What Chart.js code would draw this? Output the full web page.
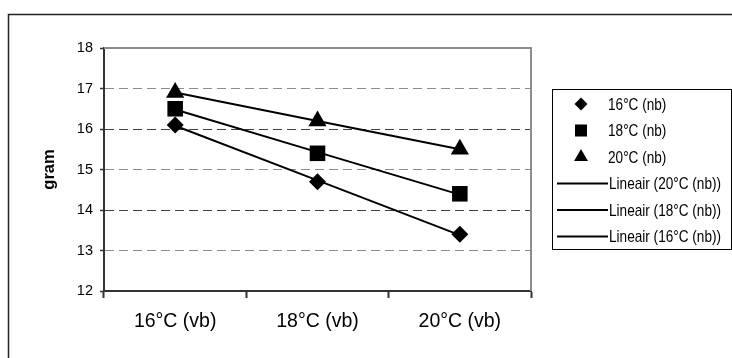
<!DOCTYPE html>
<html>
<head>
<meta charset="utf-8">
<script src="https://cdn.jsdelivr.net/npm/chart.js@4.4.0/dist/chart.umd.min.js"></script>
<style>
  html, body { margin: 0; padding: 0; background: #fff; }
  #wrap { width: 732px; height: 358px; }
</style>
</head>
<body>
<div id="wrap"><canvas id="myChart"></canvas></div>
<script>
// categories on the x axis
const categories = ['16°C (vb)', '18°C (vb)', '20°C (vb)'];
// measured points (nb)
const nb16 = [16.1, 14.7, 13.4];
const nb18 = [16.5, 15.4, 14.4];
const nb20 = [16.9, 16.2, 15.5];
// linear trend lines
const trend16 = [16.08, 14.73, 13.38];
const trend18 = [16.48, 15.43, 14.38];
const trend20 = [16.9, 16.2, 15.5];
const yMin = 12, yMax = 18, yStep = 1;
const legendOrder = ['16°C (nb)', '18°C (nb)', '20°C (nb)', 'Lineair (20°C (nb))', 'Lineair (18°C (nb))', 'Lineair (16°C (nb))'];

const sans = '"Liberation Sans", Arial, sans-serif';

function markerSet(label, data, style, radius, legendRadius) {
  return {
    label: label,
    data: data,
    showLine: false,
    pointStyle: style,
    pointRadius: radius,
    pointHoverRadius: radius,
    pointBackgroundColor: '#000',
    pointBorderColor: '#000',
    pointBorderWidth: 0,
    legendRadius: legendRadius
  };
}

function trendSet(label, data) {
  return {
    label: label,
    data: data,
    borderColor: '#000',
    borderWidth: 2,
    pointRadius: 0,
    fill: false,
    tension: 0,
    isTrend: true
  };
}

// white page + outer frame + gray plot border
const framePlugin = {
  id: 'framePlugin',
  beforeDraw: function (chart) {
    const ctx = chart.ctx;
    ctx.save();
    ctx.fillStyle = '#fff';
    ctx.fillRect(0, 0, chart.width, chart.height);
    ctx.strokeStyle = '#222';
    ctx.lineWidth = 1.5;
    ctx.strokeRect(8.5, 14.5, chart.width + 20, chart.height + 20);
    ctx.restore();
  },
  beforeDatasetsDraw: function (chart) {
    const a = chart.chartArea;
    const ctx = chart.ctx;
    ctx.save();
    ctx.strokeStyle = '#8c8c8c';
    ctx.lineWidth = 2;
    ctx.beginPath();
    ctx.moveTo(a.left, a.top);
    ctx.lineTo(a.right, a.top);
    ctx.lineTo(a.right, a.bottom);
    ctx.stroke();
    ctx.restore();
  }
};

// legend drawn in a framed box on the right, Excel style (narrow text)
const boxLegend = {
  id: 'boxLegend',
  afterDraw: function (chart) {
    const ctx = chart.ctx;
    const x0 = 552, y0 = 89, w = 179, h = 160;
    const rowH = 26.5, firstRow = 104;
    ctx.save();
    ctx.strokeStyle = '#000';
    ctx.lineWidth = 1;
    ctx.strokeRect(x0 + 0.5, y0 + 0.5, w, h);
    ctx.font = '17px ' + sans;
    ctx.textBaseline = 'middle';
    ctx.textAlign = 'left';
    legendOrder.forEach(function (name, i) {
      const ds = chart.data.datasets.find(d => d.label === name);
      const y = firstRow + i * rowH;
      let tx = 608;
      ctx.fillStyle = '#000';
      if (ds.isTrend) {
        ctx.strokeStyle = '#000';
        ctx.lineWidth = 2;
        ctx.beginPath();
        ctx.moveTo(557, y);
        ctx.lineTo(608, y);
        ctx.stroke();
        tx = 609;
      } else {
        Chart.helpers.drawPoint(ctx, { pointStyle: ds.pointStyle, radius: ds.legendRadius, rotation: 0, borderWidth: 0 }, 581, y);
      }
      ctx.save();
      ctx.translate(tx, y + 1);
      ctx.scale(0.8, 1);
      ctx.fillText(name, 0, 0);
      ctx.restore();
    });
    ctx.restore();
  }
};

const ctx = document.getElementById('myChart').getContext('2d');

const myChart = new Chart(ctx, {
  type: 'line',
  data: {
    labels: categories,
    datasets: [
      markerSet('16°C (nb)', nb16, 'rectRot', 8.5, 6.5),
      markerSet('18°C (nb)', nb18, 'rect', 11, 8.5),
      markerSet('20°C (nb)', nb20, 'triangle', 10.5, 8),
      trendSet('Lineair (20°C (nb))', trend20),
      trendSet('Lineair (18°C (nb))', trend18),
      trendSet('Lineair (16°C (nb))', trend16)
    ]
  },
  options: {
    responsive: true,
    maintainAspectRatio: false,
    animation: false,
    layout: { padding: { top: 48, right: 201, left: 0, bottom: 0 } },
    plugins: {
      legend: { display: false },
      tooltip: { enabled: false }
    },
    scales: {
      x: {
        type: 'category',
        offset: true,
        afterFit: function (scale) { scale.height = 67; },
        grid: {
          offset: true,
          drawOnChartArea: false,
          drawTicks: true,
          tickLength: 7,
          tickColor: '#333',
          tickWidth: 2
        },
        border: { display: true, color: '#333', width: 2 },
        ticks: {
          color: '#000',
          padding: 12,
          maxRotation: 0,
          font: { family: sans, size: 19.5 }
        }
      },
      y: {
        min: yMin,
        max: yMax,
        afterFit: function (scale) { scale.width = 104; },
        ticks: {
          stepSize: yStep,
          color: '#000',
          padding: 7,
          font: { family: sans, size: 14.5 }
        },
        grid: {
          drawTicks: true,
          tickLength: 4,
          tickColor: '#333',
          tickWidth: 1.5,
          lineWidth: 1,
          color: function (c) {
            const v = c.tick ? c.tick.value : null;
            if (v === yMin || v === yMax) return 'rgba(0,0,0,0)';
            return v % 2 === 0 ? '#404040' : '#8c8c8c';
          }
        },
        border: { display: true, color: '#333', width: 2, dash: [9, 5] },
        title: {
          display: true,
          text: 'gram',
          color: '#000',
          padding: { top: 40, bottom: 0 },
          font: { family: sans, size: 16.5, weight: 'bold' }
        }
      }
    }
  },
  plugins: [framePlugin, boxLegend]
});
</script>
</body>
</html>
